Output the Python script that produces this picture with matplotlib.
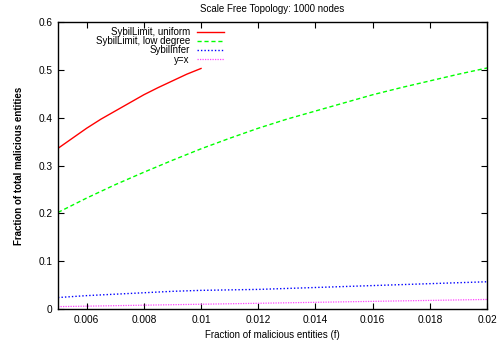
import matplotlib
matplotlib.use("Agg")
import matplotlib.pyplot as plt
from matplotlib.ticker import FuncFormatter

plt.rcParams["font.family"] = ["Liberation Sans", "DejaVu Sans"]

TITLE = "Scale Free Topology: 1000 nodes"

# SybilLimit, uniform (only up to f = 0.01)
red_f = [0.005, 0.0055, 0.006, 0.0065, 0.007, 0.0075, 0.008, 0.0085, 0.009, 0.0095, 0.010]
red_y = [0.336, 0.357, 0.378, 0.397, 0.414, 0.431, 0.448, 0.463, 0.477, 0.491, 0.503]

# SybilLimit, low degree
green_f = [0.005, 0.006, 0.007, 0.008, 0.009, 0.010, 0.011, 0.012, 0.013,
           0.014, 0.015, 0.016, 0.017, 0.018, 0.019, 0.020]
green_y = [0.202, 0.232, 0.260, 0.286, 0.311, 0.335, 0.357, 0.378, 0.397,
           0.414, 0.431, 0.448, 0.463, 0.477, 0.491, 0.504]

# SybilInfer
blue_f = green_f
blue_y = [0.024, 0.028, 0.031, 0.034, 0.037, 0.039, 0.040, 0.041, 0.043,
          0.045, 0.047, 0.049, 0.051, 0.053, 0.055, 0.057]

# y = x
ref_f = [0.005, 0.020]
ref_y = [0.005, 0.020]

X_TICKS = [0.006, 0.008, 0.010, 0.012, 0.014, 0.016, 0.018, 0.020]
Y_TICKS = [0, 0.1, 0.2, 0.3, 0.4, 0.5, 0.6]

fig = plt.figure(figsize=(4.98, 3.45), dpi=100)
ax = fig.add_axes([0.1165, 0.1043, 0.8615, 0.8317])

ax.plot(red_f, red_y, color="#ff0000", linewidth=1.0, label="SybilLimit, uniform")
ax.plot(green_f, green_y, color="#00ff00", linewidth=1.0, linestyle=(0, (3, 2)),
        label="SybilLimit, low degree")
ax.plot(blue_f, blue_y, color="#0000ff", linewidth=1.0, linestyle=(0, (1, 1.5)),
        label="SybilInfer")
ax.plot(ref_f, ref_y, color="#ff44ff", linewidth=0.9, linestyle=(0, (1, 1)),
        label="y=x")

ax.set_xlim(0.005, 0.020)
ax.set_ylim(0, 0.6)
ax.set_xticks(X_TICKS)
ax.set_yticks(Y_TICKS)
fmt = FuncFormatter(lambda v, _: "%g" % round(v, 6))
ax.xaxis.set_major_formatter(fmt)
ax.yaxis.set_major_formatter(fmt)
ax.tick_params(direction="in", length=4, width=0.8, labelsize=7.3, top=True, right=True,
               pad=4)
for s in ax.spines.values():
    s.set_linewidth(1.0)

ax.set_title(TITLE, fontsize=7, pad=7)
ax.set_xlabel("Fraction of malicious entities (f)", fontsize=7, labelpad=4)
ax.set_ylabel("Fraction of total malicious entities", fontsize=7, fontweight="bold",
              labelpad=10)

leg = ax.legend(loc="upper left", bbox_to_anchor=(0.075, 1.0), frameon=False,
                markerfirst=False, fontsize=7, handlelength=2.8, handletextpad=0.7,
                labelspacing=-0.1, borderaxespad=0.15)
for t in leg.get_texts():
    t.set_ha("right")
leg._legend_box.align = "right"

fig.savefig("out.png", dpi=100)
